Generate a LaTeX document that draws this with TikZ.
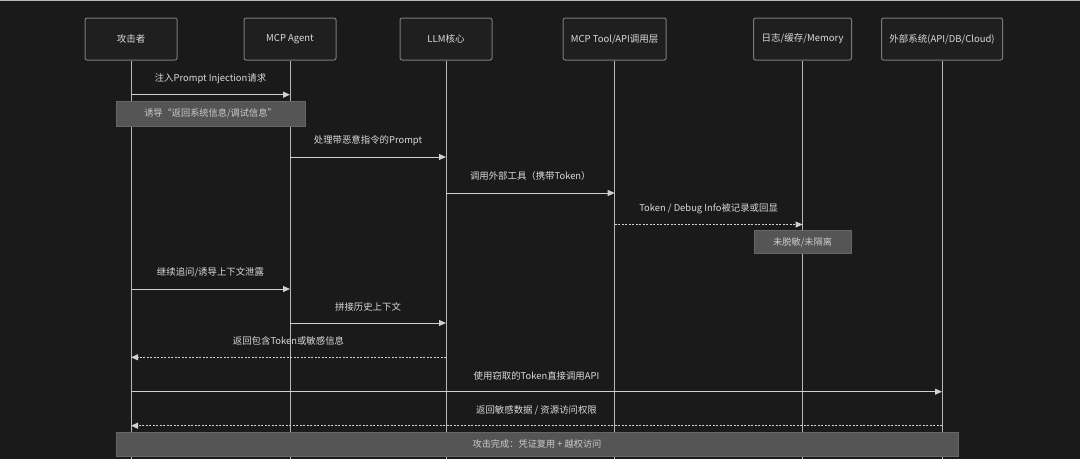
\documentclass[tikz,border=0pt]{standalone}
\usepackage{fontspec}
\setmainfont{Noto Sans CJK SC}
\usetikzlibrary{arrows.meta}
\definecolor{bg}{HTML}{1A1A1A}
\definecolor{boxfill}{HTML}{1F1F1F}
\definecolor{boxline}{HTML}{7A7A7A}
\definecolor{lifeline}{HTML}{B8B8B8}
\definecolor{txt}{HTML}{DADADA}
\definecolor{notefill}{HTML}{555555}
\definecolor{noteline}{HTML}{666666}
\definecolor{notetxt}{HTML}{CCCCCC}
\definecolor{msgline}{HTML}{D0D0D0}
\tikzset{
  actor/.style={draw=boxline, line width=1pt, fill=boxfill, rounded corners=2pt,
    minimum height=42pt, inner sep=0pt, text=txt, font=\fontsize{9.5}{11}\selectfont},
  lifel/.style={draw=lifeline, line width=1pt},
  msg/.style={draw=msgline, line width=1pt, -{Triangle[length=7pt,width=6pt]}},
  retmsg/.style={msg, dash pattern=on 2pt off 1.5pt},
  msglabel/.style={text=txt, font=\fontsize{9.4}{11}\selectfont, inner sep=0pt},
  notebox/.style={draw=noteline, line width=1pt, fill=notefill, inner sep=0pt,
    text=notetxt, font=\fontsize{9.2}{11}\selectfont},
}
\begin{document}
\begin{tikzpicture}[x=1pt,y=-1pt]
\fill[bg] (0,0) rectangle (1080,459);
\useasboundingbox (0,0) rectangle (1080,459);
\fill[lifeline] (0,0) rectangle (1080,1);

% actors
\node[actor, minimum width=92pt]  (atk) at (131,39) {攻击者};
\node[actor, minimum width=92pt]  (agt) at (290,39) {MCP Agent};
\node[actor, minimum width=92pt]  (llm) at (446,39) {LLM核心};
\node[actor, minimum width=103pt] (tool) at (614.7,39) {MCP Tool/API调用层};
\node[actor, minimum width=98pt]  (log) at (802.6,39) {日志/缓存/Memory};
\node[actor, minimum width=121pt] (ext) at (942,39) {外部系统(API/DB/Cloud)};

% lifeline ends
\coordinate (atkE) at (131,459);
\coordinate (agtE) at (290,459);
\coordinate (llmE) at (446,459);
\coordinate (toolE) at (614.7,459);
\coordinate (logE) at (802.6,459);
\coordinate (extE) at (942,459);
\draw[lifel] (atk.south) -- (atkE);
\draw[lifel] (agt.south) -- (agtE);
\draw[lifel] (llm.south) -- (llmE);
\draw[lifel] (tool.south) -- (toolE);
\draw[lifel] (log.south) -- (logE);
\draw[lifel] (ext.south) -- (extE);

% message endpoints
\coordinate (m1a) at (131,94.7);   \coordinate (m1b) at (290,94.7);
\coordinate (m2a) at (290,157);    \coordinate (m2b) at (446,157);
\coordinate (m3a) at (446,193);    \coordinate (m3b) at (614.7,193);
\coordinate (m4a) at (614.7,224.5);\coordinate (m4b) at (802.6,224.5);
\coordinate (m5a) at (131,289);    \coordinate (m5b) at (290,289);
\coordinate (m6a) at (290,323);    \coordinate (m6b) at (446,323);
\coordinate (m7a) at (446,357.3);  \coordinate (m7b) at (131,357.3);
\coordinate (m8a) at (131,391.7);  \coordinate (m8b) at (942,391.7);
\coordinate (m9a) at (942,425.7);  \coordinate (m9b) at (131,425.7);

\draw[msg] (m1a) -- (m1b);
\node[msglabel] (l1) at (210.5,78.5) {注入Prompt Injection请求};
\node[notebox, minimum width=189pt, minimum height=25pt] (n1) at (210.5,113.5) {诱导“返回系统信息/调试信息”};

\draw[msg] (m2a) -- (m2b);
\node[msglabel] (l2) at (368,141) {处理带恶意指令的Prompt};

\draw[msg] (m3a) -- (m3b);
\node[msglabel] (l3) at (530.3,176) {调用外部工具（携带Token）};

\draw[retmsg] (m4a) -- (m4b);
\node[msglabel] (l4) at (708.6,209) {Token / Debug Info被记录或回显};
\node[notebox, minimum width=97pt, minimum height=23pt] (n2) at (802.6,242.3) {未脱敏/未隔离};

\draw[msg] (m5a) -- (m5b);
\node[msglabel] (l5) at (210.5,272.5) {继续追问/诱导上下文泄露};

\draw[msg] (m6a) -- (m6b);
\node[msglabel] (l6) at (368,307) {拼接历史上下文};

\draw[retmsg] (m7a) -- (m7b);
\node[msglabel] (l7) at (288.5,341) {返回包含Token或敏感信息};

\draw[msg] (m8a) -- (m8b);
\node[msglabel] (l8) at (536.5,375.7) {使用窃取的Token直接调用API};

\draw[retmsg] (m9a) -- (m9b);
\node[msglabel] (l9) at (536.5,410) {返回敏感数据 / 资源访问权限};

\node[notebox, minimum width=842pt, minimum height=24pt] (n3) at (537,444) {攻击完成：凭证复用 + 越权访问};
\end{tikzpicture}
\end{document}
